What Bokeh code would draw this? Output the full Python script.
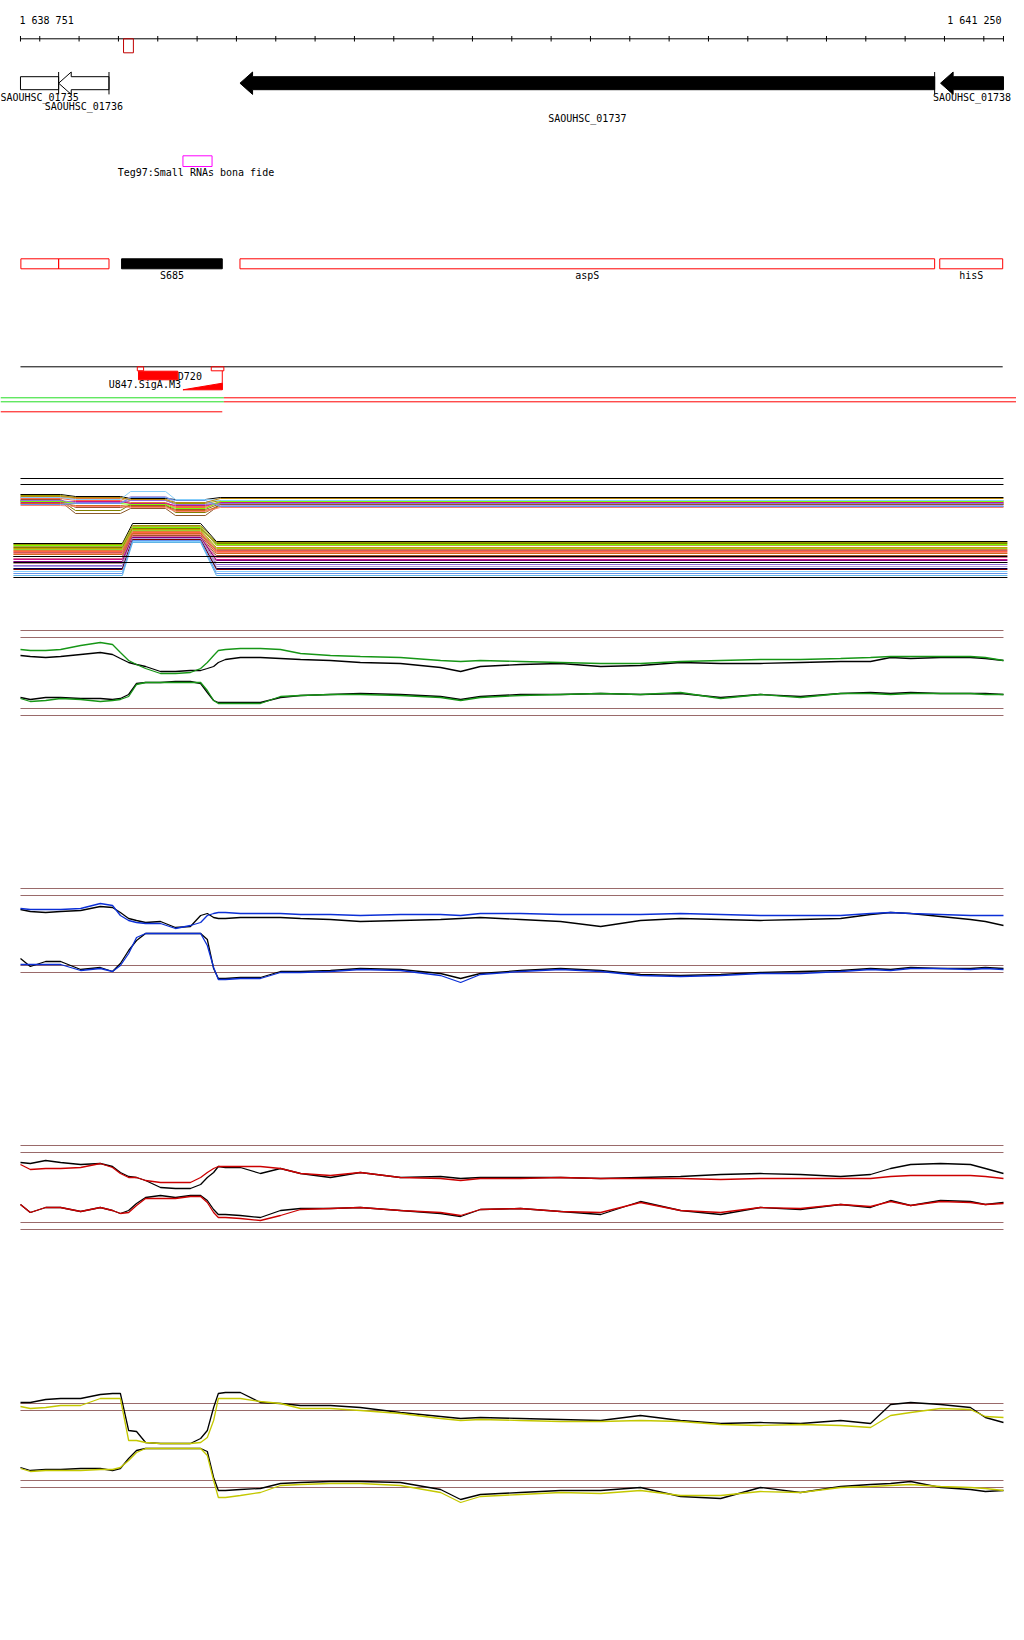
from bokeh.plotting import figure
from bokeh.models import Range1d
from bokeh.embed import file_html
from bokeh.resources import INLINE
from bokeh.core.properties import value

# ---------------- data ----------------
WIN_START, WIN_END = 1638751, 1641250
ruler_labels = ["1 638 751", "1 641 250"]
tick_pos = [1638751] + list(range(1638800, 1641201, 100)) + [1641250]
marker_span = [1639013, 1639038]

gene_names = ["SAOUHSC_01735", "SAOUHSC_01736", "SAOUHSC_01737", "SAOUHSC_01738"]
gene_start = [1638600, 1638848, 1639309, 1641090]
gene_end = [1638848, 1638976, 1641075, 1641420]
gene_filled = [False, False, True, True]

srna_name = "Teg97:Small RNAs bona fide"
srna_span = [1639164, 1639238]

feat_names = ["", "", "S685", "aspS", "hisS"]
feat_start = [1638752, 1638848, 1639008, 1639309, 1641088]
feat_end = [1638848, 1638976, 1639264, 1641075, 1641248]
feat_filled = [False, False, True, False, False]

tss_start = [1639048, 1639236]
tss_end = [1639064, 1639268]
utr_name, utr_span = "D720", [1639051, 1639151]
prom_name, prom_span = "U847.SigA.M3", [1639164, 1639264]
strand_switch = 1639268

cov_pos = [1638751, 1638776, 1638815, 1638853, 1638904, 1638954, 1638985, 1639005, 1639026,
           1639046, 1639069, 1639107, 1639145, 1639183, 1639209, 1639226, 1639242, 1639254,
           1639272, 1639310, 1639361, 1639412, 1639463, 1639539, 1639615, 1639717, 1639819,
           1639870, 1639920, 1640022, 1640124, 1640226, 1640327, 1640429, 1640531, 1640632,
           1640734, 1640836, 1640912, 1640963, 1641014, 1641090, 1641166, 1641204, 1641250]

green_up_col = [6.6,6.5,6.5,6.6,7.0,7.3,7.1,6.3,5.5,5.1,4.7,4.2,4.2,4.3,4.7,5.3,6.0,6.5,6.6,6.7,6.7,6.6,6.2,6.0,5.9,5.8,5.5,5.4,5.5,5.4,5.3,5.2,5.2,5.4,5.5,5.6,5.6,5.7,5.8,5.9,5.9,5.9,5.9,5.8,5.5]
green_up_blk = [6.0,5.9,5.8,5.9,6.1,6.3,6.1,5.7,5.3,5.1,4.9,4.4,4.4,4.5,4.5,4.7,4.9,5.3,5.6,5.8,5.8,5.7,5.6,5.5,5.3,5.2,4.8,4.4,4.9,5.1,5.2,4.9,5.0,5.3,5.2,5.2,5.3,5.4,5.4,5.8,5.7,5.8,5.8,5.7,5.5]
green_lo_col = [1.7,1.4,1.5,1.7,1.6,1.4,1.5,1.6,1.9,3.1,3.3,3.3,3.3,3.3,3.3,2.5,1.5,1.2,1.2,1.2,1.2,1.9,2.0,2.1,2.1,2.0,1.8,1.5,1.8,2.0,2.1,2.2,2.1,2.3,1.7,2.1,1.8,2.2,2.2,2.1,2.2,2.2,2.2,2.1,2.1]
green_lo_blk = [1.8,1.6,1.8,1.8,1.7,1.7,1.6,1.7,2.1,3.2,3.3,3.3,3.4,3.4,3.2,2.3,1.5,1.3,1.3,1.3,1.3,1.8,2.0,2.1,2.2,2.1,1.9,1.6,1.9,2.1,2.1,2.2,2.1,2.2,1.8,2.1,1.9,2.2,2.3,2.2,2.3,2.2,2.2,2.2,2.1]
green_refs = [8.5, 7.8, 0.7, 0.0]

blue_up_col = [6.4,6.3,6.3,6.3,6.4,6.9,6.7,5.7,5.2,5.0,4.9,4.9,4.4,4.7,5.0,5.7,5.9,6.0,6.0,5.9,5.9,5.9,5.8,5.8,5.7,5.8,5.8,5.7,5.9,5.9,5.8,5.8,5.8,5.9,5.8,5.7,5.7,5.7,5.9,6.0,5.9,5.8,5.7,5.7,5.7]
blue_up_blk = [6.3,6.1,6.0,6.1,6.2,6.6,6.5,6.0,5.4,5.2,5.0,5.1,4.5,4.6,5.7,5.9,5.5,5.4,5.4,5.5,5.5,5.5,5.4,5.3,5.1,5.2,5.3,5.4,5.5,5.3,5.1,4.6,5.2,5.4,5.3,5.2,5.3,5.4,5.8,6.0,5.9,5.6,5.3,5.1,4.7]
blue_lo_col = [0.8,0.8,0.8,0.8,0.2,0.4,0.1,0.7,1.9,3.5,3.9,3.9,3.9,3.9,3.9,2.7,0.5,-0.7,-0.7,-0.6,-0.6,0.0,0.0,0.1,0.3,0.2,-0.3,-1.0,-0.2,0.1,0.3,0.1,-0.3,-0.4,-0.3,-0.1,-0.1,0.1,0.3,0.2,0.4,0.4,0.3,0.4,0.3]
blue_lo_blk = [1.4,0.6,1.1,1.1,0.3,0.5,0.1,0.9,2.2,3.2,3.9,3.9,3.9,3.9,3.9,3.3,0.4,-0.6,-0.6,-0.5,-0.5,0.1,0.1,0.2,0.4,0.3,-0.1,-0.6,-0.1,0.2,0.4,0.2,-0.2,-0.3,-0.2,0.0,0.1,0.2,0.4,0.3,0.5,0.4,0.4,0.5,0.4]
blue_refs = [8.4, 7.7, 0.7, 0.0]

red_up_col = [6.5,6.0,6.1,6.1,6.2,6.6,6.2,5.6,5.2,5.2,4.9,4.7,4.7,4.7,5.2,5.7,6.1,6.3,6.3,6.3,6.3,6.1,5.6,5.4,5.7,5.2,5.1,4.9,5.1,5.1,5.2,5.1,5.1,5.1,5.0,5.1,5.1,5.1,5.1,5.3,5.4,5.4,5.4,5.3,5.1]
red_up_blk = [6.7,6.6,6.9,6.7,6.5,6.6,6.3,5.7,5.3,5.2,4.9,4.2,4.1,4.1,4.5,5.2,5.7,6.3,6.2,6.2,5.6,6.1,5.6,5.2,5.7,5.2,5.3,5.1,5.2,5.2,5.2,5.1,5.2,5.3,5.5,5.6,5.5,5.3,5.5,6.1,6.5,6.6,6.5,6.1,5.6]
red_lo_col = [2.5,1.7,2.2,2.2,1.8,2.2,1.9,1.6,1.7,2.4,3.1,3.1,3.1,3.3,3.3,2.7,1.7,1.2,1.2,1.1,0.9,1.4,2.0,2.1,2.2,1.9,1.7,1.4,2.0,2.1,1.8,1.7,2.7,1.9,1.7,2.2,2.1,2.5,2.3,2.8,2.4,2.8,2.7,2.5,2.6]
red_lo_blk = [2.5,1.7,2.2,2.2,1.8,2.2,1.9,1.6,1.9,2.6,3.2,3.4,3.2,3.4,3.4,2.9,2.0,1.5,1.5,1.4,1.2,1.9,2.1,2.1,2.2,1.9,1.6,1.3,2.0,2.1,1.8,1.5,2.8,1.9,1.5,2.2,2.0,2.5,2.2,2.9,2.4,2.9,2.8,2.5,2.7]
red_refs = [8.4, 7.7, 0.7, 0.0]

yellow_up_col = [8.1,7.9,8.0,8.2,8.2,8.9,8.9,8.9,4.7,4.7,4.5,4.4,4.4,4.4,4.5,5.0,6.7,8.9,8.9,8.9,8.6,8.4,7.9,7.9,7.7,7.4,6.9,6.7,6.8,6.7,6.6,6.6,6.7,6.6,6.3,6.2,6.3,6.2,6.0,7.2,7.5,7.9,7.8,7.1,7.0]
yellow_up_blk = [8.5,8.5,8.8,8.9,8.9,9.3,9.4,9.4,5.7,5.6,4.5,4.4,4.4,4.4,4.9,5.7,8.0,9.4,9.5,9.5,8.5,8.4,8.2,8.2,8.0,7.5,7.1,6.9,7.0,6.9,6.8,6.7,7.2,6.7,6.4,6.5,6.4,6.7,6.4,8.3,8.5,8.3,8.0,7.0,6.5]
yellow_lo_col = [1.9,1.6,1.7,1.7,1.7,1.8,1.8,2.0,2.7,3.5,3.9,3.9,3.9,3.9,3.9,3.2,0.7,-1.0,-1.0,-0.8,-0.5,0.2,0.3,0.4,0.4,0.2,-0.5,-1.5,-0.9,-0.7,-0.5,-0.6,-0.3,-0.8,-0.8,-0.4,-0.5,0.0,0.1,0.2,0.3,0.1,0.0,-0.1,-0.3]
yellow_lo_blk = [2.0,1.7,1.8,1.8,1.9,1.9,1.7,1.9,2.9,3.7,3.9,3.9,3.9,3.9,3.9,3.6,1.0,-0.3,-0.3,-0.2,-0.1,0.4,0.5,0.6,0.6,0.5,-0.2,-1.2,-0.7,-0.5,-0.3,-0.3,0.0,-0.9,-1.1,0.0,-0.5,0.1,0.3,0.4,0.6,0.0,-0.2,-0.4,-0.3]
yellow_refs = [8.4, 7.7, 0.7, 0.0]

# multi-sample track: break points and per-sample levels
mc_up_x = [1638751, 1638853, 1638891, 1639005, 1639031, 1639120, 1639145, 1639221, 1639259, 1641250]
mc_lo_x = [1638733, 1639010, 1639036, 1639209, 1639249, 1641260]
mc_black_refs = [10.2, 9.6]
mc_lo_black_refs = [2.4, 1.8, 0.3]
mc_up_colors = ["black", "#9a9a00", "#e07b39", "#ff6347", "#a0522d", "#808000", "#8b5a2b", "#c71585",
                "#9370db", "#87cefa", "#b0a0e0", "#7cfc00", "#d2691e", "#6495ed", "#fa8072", "#b8860b"]
# (left, dip, bump, middle, right)
mc_up_levels = [(8.6, 8.4, 8.2, 8.1, 8.3), (8.5, 8.3, 8.0, 7.7, 8.0), (8.3, 8.2, 7.8, 7.4, 7.9),
                (8.2, 8.0, 7.7, 7.3, 7.8), (8.1, 7.3, 7.5, 7.1, 7.7), (8.0, 7.0, 7.6, 6.8, 7.6),
                (7.9, 6.7, 7.2, 6.5, 7.6), (7.8, 7.9, 7.7, 7.5, 7.8), (8.0, 7.8, 8.0, 7.6, 7.7),
                (8.3, 8.1, 8.9, 8.1, 8.0), (7.7, 7.7, 8.4, 7.8, 7.5), (7.9, 7.7, 7.6, 7.2, 7.9),
                (7.7, 7.5, 7.4, 7.0, 7.4), (7.6, 7.7, 8.3, 8.0, 7.4), (7.5, 7.4, 7.3, 6.9, 7.3),
                (8.4, 8.3, 8.1, 7.8, 8.2)]
mc_lo_colors = ["black", "#9a9a00", "#7cfc00", "#b5a642", "#808000", "#c8a000", "#9acd32", "#e07b39",
                "#ff6347", "#cd5c5c", "#fa8072", "#d2691e", "#a0522d", "#db7093", "#c71585", "#800080",
                "#bc8f8f", "#9370db", "#b0a0e0", "#000050", "#800000", "#87cefa", "#6495ed", "#5fb4e6"]
# (left, plateau, right)
mc_lo_levels = [(3.7, 5.7, 3.9), (3.6, 5.5, 3.8), (3.5, 5.3, 3.6), (3.4, 5.4, 3.5), (3.3, 5.2, 3.7),
                (3.2, 5.1, 3.3), (3.1, 5.0, 3.2), (3.0, 4.9, 3.1), (2.9, 4.8, 2.9), (2.8, 4.7, 3.0),
                (2.7, 4.6, 2.8), (2.6, 4.7, 2.7), (2.4, 4.5, 2.5), (2.2, 4.4, 2.3), (2.1, 4.3, 2.1),
                (1.9, 4.3, 2.0), (1.7, 4.2, 1.8), (1.5, 4.1, 1.6), (1.4, 4.2, 1.4), (1.2, 4.0, 1.2),
                (1.1, 4.1, 1.1), (0.9, 3.9, 0.9), (0.7, 4.0, 0.7), (0.5, 3.8, 0.5)]

# ---------------- layout / style ----------------
FONT = value("DejaVu Sans Mono")
BROWN = "#9a6a6a"
X0, X1 = 1638700.2, 1641283.1
p = figure(width=1016, height=1624, x_range=Range1d(X0, X1), y_range=Range1d(1624, 0),
           output_backend="svg", toolbar_location=None, x_axis_location=None,
           y_axis_location=None, min_border=0, outline_line_color=None,
           background_fill_color="white", border_fill_color="white")
p.grid.visible = False
p.extra_y_ranges = {
    "mc": Range1d(-104.4, 58.0),
    "green": Range1d(-90.9, 71.5),
    "blue": Range1d(-65.2, 97.2),
    "red": Range1d(-39.5, 122.9),
    "yellow": Range1d(-13.7, 148.7),
}

def txt(x, y, t, align="center", xo=0):
    p.text(x=x, y=y, text=t, text_font=FONT, text_font_size="10px", text_align=align,
           text_baseline="middle", text_color="black", x_offset=xo)

# ruler
txt([WIN_START], [20], [ruler_labels[0]], "left", -1)
txt([WIN_END], [20], [ruler_labels[1]], "right", -2)
p.segment(x0=[WIN_START], y0=[38.3], x1=[WIN_END], y1=[38.3], line_color="black", line_width=1)
p.segment(x0=tick_pos, y0=[35.5] * len(tick_pos), x1=tick_pos, y1=[41] * len(tick_pos),
          line_color="black", line_width=1)
p.quad(left=[marker_span[0]], right=[marker_span[1]], top=[38.3], bottom=[52.3],
       fill_color=None, line_color="#c00000", line_width=1)

# genes
GY, BH, HH, HEAD = 82.7, 6.5, 11.2, 32
gxs, gys, gfill, bars = [], [], [], []
lab_x = []
for s0, e0, filled in zip(gene_start, gene_end, gene_filled):
    s, e = max(s0, WIN_START), min(e0, WIN_END)
    if s0 >= WIN_START:
        gxs.append([s, s + HEAD, s + HEAD, e, e, s + HEAD, s + HEAD])
        gys.append([GY, GY - HH, GY - BH, GY - BH, GY + BH, GY + BH, GY + HH])
    else:
        gxs.append([s, e, e, s])
        gys.append([GY - BH, GY - BH, GY + BH, GY + BH])
    gfill.append("black" if filled else "white")
    if e0 <= WIN_END:
        bars.append(e)
    lab_x.append((s + e) / 2)
p.patches(xs=gxs, ys=gys, fill_color=gfill, line_color="black", line_width=1)
p.segment(x0=bars, y0=[GY - HH] * len(bars), x1=bars, y1=[GY + HH] * len(bars),
          line_color="black", line_width=1)
txt(lab_x, [97, 106, 118, 97], gene_names)

# sRNA
p.quad(left=[srna_span[0]], right=[srna_span[1]], top=[155.3], bottom=[166],
       fill_color=None, line_color="#ff00ff", line_width=1)
txt([(srna_span[0] + srna_span[1]) / 2 - 4], [172.3], [srna_name])

# annotation features
p.quad(left=feat_start, right=feat_end, top=[258.3] * 5, bottom=[268.3] * 5,
       fill_color=["black" if f else None for f in feat_filled],
       line_color=["black" if f else "red" for f in feat_filled], line_width=1)
named = [i for i, n in enumerate(feat_names) if n]
txt([(feat_start[i] + feat_end[i]) / 2 for i in named], [275] * len(named),
    [feat_names[i] for i in named])

# transcription units / promoters
p.segment(x0=[WIN_START], y0=[366.3], x1=[WIN_END - 2], y1=[366.3], line_color="black", line_width=1)
p.quad(left=tss_start, right=tss_end, top=[366.3] * 2, bottom=[370.3] * 2,
       fill_color=None, line_color="red", line_width=1)
p.quad(left=[utr_span[0]], right=[utr_span[1]], top=[370.7], bottom=[379.3],
       fill_color="red", line_color="red", line_width=1)
txt([utr_span[1]], [376], [utr_name], "left")
p.patch(x=[prom_span[0], prom_span[1], prom_span[1]], y=[389.3, 389.3, 382.7],
        fill_color="red", line_color="red", line_width=1)
p.segment(x0=[prom_span[1]], y0=[370.3], x1=[prom_span[1]], y1=[389.3], line_color="red", line_width=1)
txt([prom_span[0]], [383.5], [prom_name], "right", -2)

# strand lines
for yy in (397.3, 401.3):
    p.segment(x0=[X0], y0=[yy], x1=[strand_switch], y1=[yy], line_color="#22dd22", line_width=1)
    p.segment(x0=[strand_switch], y0=[yy], x1=[X1], y1=[yy], line_color="red", line_width=1)
p.segment(x0=[X0], y0=[411.3], x1=[prom_span[1]], y1=[411.3], line_color="red", line_width=1)

# multi-sample track
for v in mc_black_refs:
    p.line(x=[WIN_START, WIN_END], y=[v, v], line_color="black", line_width=1, y_range_name="mc")
up_ys = [[L, L, D, D, B, B, M, M, R, R] for (L, D, B, M, R) in mc_up_levels]
p.multi_line(xs=[mc_up_x] * len(up_ys), ys=up_ys, line_color=mc_up_colors, line_width=1,
             y_range_name="mc")
lo_ys = [[L, L, P, P, R, R] for (L, P, R) in mc_lo_levels]
p.multi_line(xs=[mc_lo_x] * len(lo_ys), ys=lo_ys, line_color=mc_lo_colors, line_width=1,
             y_range_name="mc")
for v in mc_lo_black_refs:
    p.line(x=[mc_lo_x[0], mc_lo_x[-1]], y=[v, v], line_color="black", line_width=1, y_range_name="mc")

# coverage tracks
tracks = [
    ("green", "#169616", green_refs, green_up_blk, green_up_col, green_lo_blk, green_lo_col),
    ("blue", "#0b2fd6", blue_refs, blue_up_blk, blue_up_col, blue_lo_blk, blue_lo_col),
    ("red", "#cc0000", red_refs, red_up_blk, red_up_col, red_lo_blk, red_lo_col),
    ("yellow", "#c4c800", yellow_refs, yellow_up_blk, yellow_up_col, yellow_lo_blk, yellow_lo_col),
]
for name, col, refs, ub, uc, lb, lc in tracks:
    for v in refs:
        p.line(x=[WIN_START, WIN_END], y=[v, v], line_color=BROWN, line_width=1, y_range_name=name)
    for arr, c in ((ub, "black"), (lb, "black"), (uc, col), (lc, col)):
        p.line(x=cov_pos, y=arr, line_color=c, line_width=1.3, y_range_name=name)

open("out.html", "w").write(file_html(p, INLINE))
